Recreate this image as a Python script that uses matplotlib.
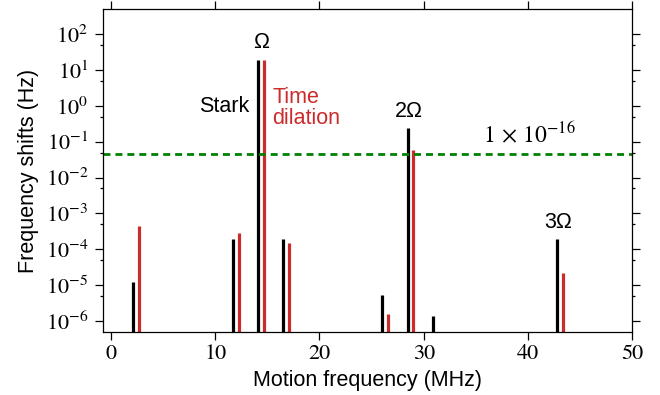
import numpy as np
import matplotlib.pyplot as plt
from matplotlib.ticker import FixedLocator, MultipleLocator, NullFormatter

# black bars: Stark shift, red bars: time dilation shift
stark_f = [2.14, 11.7, 14.12, 16.52, 26.04, 28.47, 30.87, 42.82]
stark_shift = [1.2e-5, 1.95e-4, 18.5, 1.95e-4, 5.3e-6, 0.235, 1.38e-6, 1.9e-4]
td_f = [2.68, 12.27, 14.67, 17.07, 26.6, 29.0, 43.4]
td_shift = [4.4e-4, 2.9e-4, 18.5, 1.47e-4, 1.6e-6, 0.06, 2.2e-5]
limit = 0.0441  # 1e-16 fractional

plt.rcParams['font.family'] = ['Liberation Sans', 'DejaVu Sans']
plt.rcParams['mathtext.fontset'] = 'stix'
plt.rcParams['font.size'] = 15.5

fig = plt.figure(figsize=(6.6, 3.95), dpi=100)
ax = fig.add_axes([0.156, 0.16, 0.802, 0.817])

ylo, yhi = 5e-7, 5e2
ax.set_yscale('log')
ax.set_xlim(-0.75, 50)
ax.set_ylim(ylo, yhi)

red = '#cc2b2b'
ax.vlines(stark_f, ylo, stark_shift, color='k', lw=2.3)
ax.vlines(td_f, ylo, td_shift, color=red, lw=2.3)
ax.axhline(limit, color='green', lw=2.0, ls=(0, (2.5, 1.8)))

ax.text(14.4, 30, 'Ω', ha='center', va='bottom')
ax.text(13.3, 0.95, 'Stark', ha='right', va='center')
ax.text(15.5, 0.85, 'Time\ndilation', ha='left', va='center', color=red,
        linespacing=1.0)
ax.text(28.6, 0.36, '2Ω', ha='center', va='bottom')
ax.text(35.7, 0.07, r'$1\,\times\,10^{-16}$', ha='left', va='bottom',
        family='STIXGeneral', fontsize=17)
ax.text(42.9, 2.9e-4, '3Ω', ha='center', va='bottom')

ax.set_xlabel('Motion frequency (MHz)', labelpad=4)
ax.set_ylabel('Frequency shifts (Hz)', labelpad=5)

decades = 10.0 ** np.arange(-6, 3)
ax.xaxis.set_major_locator(MultipleLocator(10))
ax.yaxis.set_major_locator(FixedLocator(decades))
ax.yaxis.set_minor_locator(FixedLocator(5 * decades[:-1] / 10 * 10))
ax.yaxis.set_minor_formatter(NullFormatter())
ax.tick_params(which='both', direction='out', top=True, right=True, width=0.9)
ax.tick_params(which='major', length=5.5, labelsize=16)
ax.tick_params(axis='y', which='major', pad=5)
ax.tick_params(which='minor', length=2.0)
for lab in ax.get_xticklabels() + ax.get_yticklabels():
    lab.set_family('STIXGeneral')
for sp in ax.spines.values():
    sp.set_linewidth(0.9)

fig.savefig('out.png', dpi=100)
